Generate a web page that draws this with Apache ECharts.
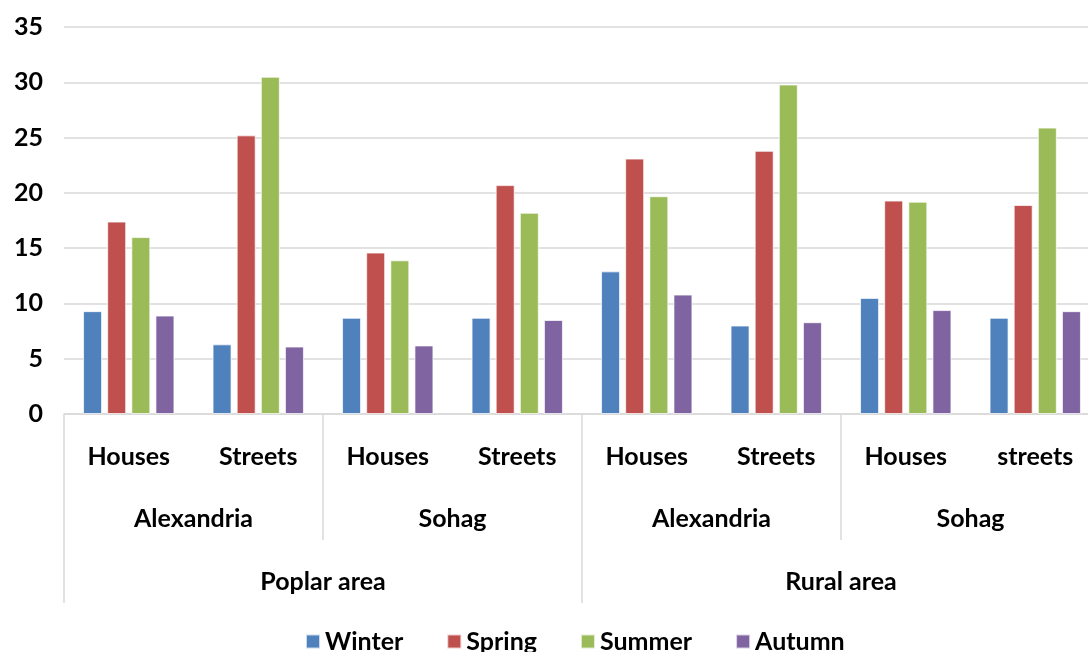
<!DOCTYPE html>
<html>
<head>
<meta charset="utf-8">
<script src="https://cdn.jsdelivr.net/npm/echarts@6/dist/echarts.min.js"></script>
<style>
  html, body { margin: 0; padding: 0; background: #fff; overflow: hidden; }
  #chart { width: 1088px; height: 652px; }
</style>
</head>
<body>
<div id="chart"></div>
<script>
// categories, three levels
var places = ['Houses', 'Streets', 'Houses', 'Streets', 'Houses', 'Streets', 'Houses', 'streets'];
var cities = ['Alexandria', 'Sohag', 'Alexandria', 'Sohag'];
var areas = ['Poplar area', 'Rural area'];

// series values
var winter = [9.3, 6.3, 8.7, 8.7, 12.9, 8.0, 10.5, 8.7];
var spring = [17.4, 25.2, 14.6, 20.7, 23.1, 23.8, 19.3, 18.9];
var summer = [16.0, 30.5, 13.9, 18.2, 19.7, 29.8, 19.2, 25.9];
var autumn = [8.9, 6.1, 6.2, 8.5, 10.8, 8.3, 9.4, 9.3];

var seriesNames = ['Winter', 'Spring', 'Summer', 'Autumn'];
var colors = ['#4F81BD', '#C0504D', '#9BBB59', '#8064A2'];

var font = 'Lato';
var fs = 25;
var sepColor = '#d9d9d9';

var chart = echarts.init(document.getElementById('chart'));

function bar(name, data, i) {
    return {
        name: name,
        type: 'bar',
        data: data,
        barWidth: 19,
        barGap: '27%',
        itemStyle: { color: colors[i], borderColor: 'rgba(255,255,255,0.7)', borderWidth: 1 }
    };
}

function levelAxis(labels, margin, tickLen) {
    return {
        type: 'category',
        position: 'bottom',
        data: labels,
        axisLine: { show: false },
        axisTick: { show: true, interval: 0, length: tickLen, lineStyle: { color: sepColor, width: 1.5 } },
        axisLabel: { interval: 0, margin: margin, color: '#000', fontFamily: font, fontWeight: 'bold', fontSize: fs },
        splitLine: { show: false }
    };
}

chart.setOption({
    animation: false,
    color: colors,
    // plot runs past the right edge of the picture
    grid: { left: 64, width: 1036, top: 27, height: 387, containLabel: false, outerBoundsMode: 'none' },
    legend: {
        data: seriesNames,
        top: 624,
        left: 300,
        itemWidth: 14,
        itemHeight: 14,
        itemGap: 43,
        icon: 'rect',
        textStyle: { color: '#000', fontFamily: font, fontWeight: 'bold', fontSize: fs }
    },
    xAxis: [
        {
            type: 'category',
            data: places,
            axisLine: { show: true, lineStyle: { color: sepColor, width: 1.5 } },
            axisTick: { show: false },
            axisLabel: { interval: 0, margin: 30, color: '#000', fontFamily: font, fontWeight: 'bold', fontSize: fs }
        },
        levelAxis(cities, 92, 126),
        levelAxis(areas, 155, 189)
    ],
    yAxis: {
        type: 'value',
        min: 0,
        max: 35,
        interval: 5,
        axisLine: { show: false },
        axisTick: { show: false },
        axisLabel: { margin: 21, color: '#000', fontFamily: font, fontWeight: 'bold', fontSize: fs },
        splitLine: { lineStyle: { color: sepColor, width: 1.5 } }
    },
    series: [
        bar('Winter', winter, 0),
        bar('Spring', spring, 1),
        bar('Summer', summer, 2),
        bar('Autumn', autumn, 3)
    ]
});
</script>
</body>
</html>
